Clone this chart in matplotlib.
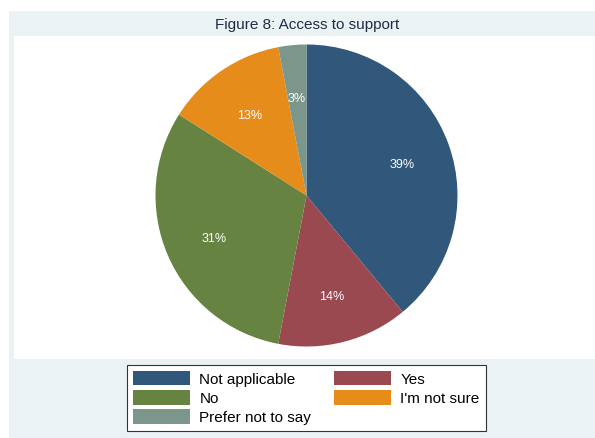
import matplotlib
matplotlib.use("Agg")
import matplotlib.pyplot as plt
from matplotlib.patches import Rectangle

plt.rcParams["font.family"] = ["Liberation Sans", "DejaVu Sans"]

# Survey responses, share of respondents (%)
categories = ["Not applicable", "Yes", "No", "I'm not sure", "Prefer not to say"]
shares = [39, 14, 31, 13, 3]
colors = ["#31587A", "#9A4950", "#668341", "#E68C1A", "#7C968C"]

W, H = 595, 438
BG = "#EAF2F3"

fig = plt.figure(figsize=(W / 100, H / 100), dpi=100, facecolor="white")


def box(x0, y0, x1, y1):
    """Pixel box (top-left origin) -> figure fraction (left, bottom, width, height)."""
    return (x0 / W, 1 - y1 / H, (x1 - x0) / W, (y1 - y0) / H)


# graph region (light) and plot region (white)
x, y, w, h = box(9, 11, 596, 439)
fig.patches.append(Rectangle((x, y), w, h, transform=fig.transFigure,
                             facecolor=BG, edgecolor="none", zorder=-2))
x, y, w, h = box(14, 36, 596, 359)
fig.patches.append(Rectangle((x, y), w, h, transform=fig.transFigure,
                             facecolor="white", edgecolor="none", zorder=-1))

fig.text(307 / W, 1 - 25 / H, "Figure 8: Access to support", ha="center", va="center",
         fontsize=11, color="#1E2B45")

ax = fig.add_axes(box(155.5, 44.5, 457.5, 346.5))
ax.set_facecolor("none")
wedges, _, autotexts = ax.pie(
    shares, colors=colors, startangle=90, counterclock=False, radius=1,
    autopct=lambda p: f"{p:.0f}%", pctdistance=0.67,
    wedgeprops=dict(linewidth=0), textprops=dict(color="white", fontsize=9),
)
# labels sit a touch below the wedge's centre line
for t in autotexts:
    tx, ty = t.get_position()
    t.set_position((tx, ty - 0.025))
ax.set_xlim(-1, 1)
ax.set_ylim(-1, 1)
ax.set_aspect("equal")
ax.axis("off")

# legend, two columns filled row by row
order = [0, 2, 4, 1, 3]
leg = fig.legend([wedges[i] for i in order], [categories[i] for i in order],
                 loc="center", bbox_to_anchor=(306.5 / W, 1 - 398 / H), ncol=2,
                 fontsize=11, frameon=True, fancybox=False, edgecolor="#333333",
                 facecolor="white", framealpha=1,
                 handlelength=3.73, handleheight=1.05, handletextpad=0.6,
                 columnspacing=1.5, labelspacing=0.25, borderpad=0.4,
                 borderaxespad=0)
leg.get_frame().set_linewidth(0.8)

fig.savefig("out.png", dpi=100, facecolor="white")
